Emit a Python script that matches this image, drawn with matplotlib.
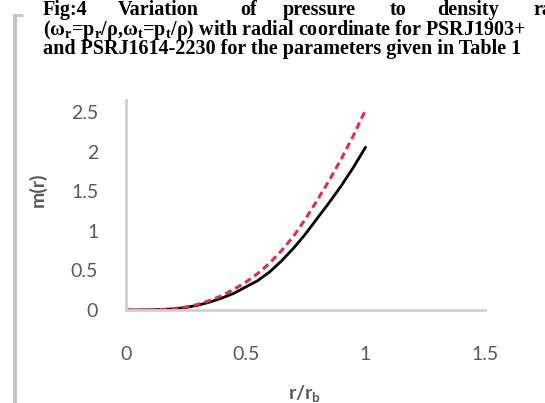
import matplotlib
matplotlib.use('Agg')
import matplotlib.pyplot as plt
from matplotlib.lines import Line2D

r = [0, 0.05, 0.1, 0.15, 0.2, 0.25, 0.3, 0.35, 0.4, 0.45, 0.5,
     0.55, 0.6, 0.65, 0.7, 0.75, 0.8, 0.85, 0.9, 0.95, 1.0]
m_black = [0, 0, 0.002, 0.006, 0.015, 0.032, 0.06, 0.10, 0.15, 0.21, 0.29,
           0.37, 0.48, 0.62, 0.78, 0.96, 1.16, 1.36, 1.57, 1.80, 2.05]
m_red = [0, 0, 0.002, 0.007, 0.018, 0.038, 0.07, 0.12, 0.18, 0.26, 0.35,
         0.46, 0.59, 0.75, 0.93, 1.15, 1.39, 1.64, 1.91, 2.20, 2.52]

xticks = [0, 0.5, 1, 1.5]
xtick_labels = ['0', '0.5', '1', '1.5']
yticks = [0, 0.5, 1, 1.5, 2, 2.5]
ytick_labels = ['0', '0.5', '1', '1.5', '2', '2.5']

title_words = ['Fig:4', 'Variation', 'of', 'pressure', 'to', 'density', 'ra']
title_x = [43, 118, 240, 283, 390, 437, 533]   # pixel left edges (justified line)
title_line2 = r'(ω$_{r}$=p$_{r}$/ρ,ω$_{t}$=p$_{t}$/ρ) with radial coordinate for PSRJ1903+'
title_line3 = 'and PSRJ1614-2230 for the parameters given in Table 1'

plt.rcParams['mathtext.default'] = 'regular'

W, H = 545, 403
fig = plt.figure(figsize=(W / 100, H / 100), dpi=100)

# grey bar on the left
fig.add_artist(Line2D([15 / W, 15 / W], [0, 1 - 14 / H], color='#c4c4c4', lw=3,
                      transform=fig.transFigure, solid_capstyle='butt'))
fig.add_artist(Line2D([13.5 / W, 23 / W], [1 - 15 / H, 1 - 15 / H], color='#c4c4c4', lw=2,
                      transform=fig.transFigure, solid_capstyle='butt'))

# title (bold serif, justified first line, clipped at right like the reference)
tfont = dict(family='Liberation Serif', weight='bold', fontsize=14.5, color='black', va='baseline')
for w, px in zip(title_words, title_x):
    fig.text(px / W, 1 - 15 / H, w, **tfont)
fig.text(43 / W, 1 - 34.5 / H, title_line2, **tfont)
fig.text(43 / W, 1 - 54 / H, title_line3, **tfont)

# chart
left, right = 126 / W, 485 / W
bottom, top = 1 - 310 / H, 1 - 100 / H
ax = fig.add_axes([left, bottom, right - left, top - bottom])
ax.plot(r, m_black, color='black', lw=2)
ax.plot(r, m_red, color='#d9304f', lw=2.2, linestyle=(0, (2.3, 1.4)))

ax.set_xlim(0, 1.5)
ax.set_ylim(0, 2.65)
ax.set_xticks(xticks)
ax.set_xticklabels(xtick_labels)
ax.set_yticks(yticks)
ax.set_yticklabels(ytick_labels)
ax.tick_params(length=0, labelsize=14, labelcolor='#595959')
ax.tick_params(axis='x', pad=26)
ax.tick_params(axis='y', pad=20)
for lab in ax.get_xticklabels() + ax.get_yticklabels():
    lab.set_family('Lato')

for s in ['top', 'right']:
    ax.spines[s].set_visible(False)
for s in ['left', 'bottom']:
    ax.spines[s].set_color('#d0d0d0')
    ax.spines[s].set_linewidth(2)

fig.text(38 / W, 1 - 190 / H, 'm(r)', rotation=90, ha='center', va='center',
         fontsize=14, family='Lato', weight='bold', color='#595959')
fig.text(305 / W, 1 - 393 / H, r'r/r$_{b}$', ha='center', va='center',
         fontsize=14, family='Lato', weight='bold', color='#595959')

fig.savefig('out.png', dpi=100)
